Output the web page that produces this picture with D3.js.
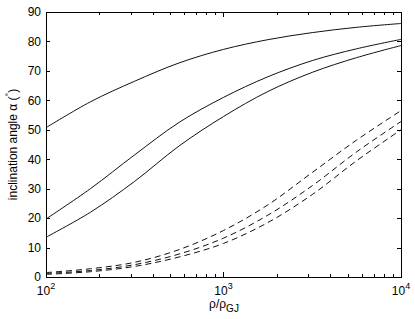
<!DOCTYPE html>
<html>
<head>
<meta charset="utf-8">
<script src="https://cdn.jsdelivr.net/npm/d3@7"></script>
<style>
  body { margin: 0; background: #fff; }
  svg { display: block; font-family: "Liberation Sans", Arial, sans-serif; }
</style>
</head>
<body>
<svg id="chart" width="415" height="319"></svg>
<script>
// density ratio rho/rho_GJ (log spaced)
const rho = [100, 178, 316, 562, 1000, 1778, 3162, 5623, 10000];

// solid curves
const solidA = [50.7, 59.5, 66.5, 72.7, 77.3, 80.6, 83.0, 84.8, 86.1];
const solidB = [19.7, 30.0, 41.5, 52.5, 61.0, 68.0, 73.5, 77.5, 80.7];
const solidC = [13.5, 22.0, 32.5, 44.5, 54.5, 63.0, 69.5, 74.5, 78.6];

// dashed curves
const dashA = [1.5, 2.8, 5.0, 9.3, 15.8, 24.5, 35.5, 46.5, 56.5];
const dashB = [1.2, 2.2, 4.2, 7.8, 13.2, 21.0, 31.0, 42.5, 52.8];
const dashC = [0.9, 1.8, 3.6, 6.8, 11.4, 18.5, 28.0, 39.5, 50.0];

const yTicks = [0, 10, 20, 30, 40, 50, 60, 70, 80, 90];
const xMajor = [2, 3, 4]; // exponents

const svg = d3.select("#chart");
const mLeft = 46, mRight = 401, mTop = 12, mBottom = 277;

const x = d3.scaleLog().domain([100, 10000]).range([mLeft, mRight]);
const y = d3.scaleLinear().domain([0, 90]).range([mBottom, mTop]);

const line = d3.line()
  .x((d) => x(d[0]))
  .y((d) => y(d[1]))
  .curve(d3.curveCatmullRom.alpha(0.5));

function addCurve(vals, dashed) {
  svg.append("path")
    .datum(rho.map((r, i) => [r, vals[i]]))
    .attr("d", line)
    .attr("fill", "none")
    .attr("stroke", "#111")
    .attr("stroke-width", 1)
    .attr("stroke-dasharray", dashed ? "6,4" : null);
}

[solidA, solidB, solidC].forEach((s) => addCurve(s, false));
[dashA, dashB, dashC].forEach((s) => addCurve(s, true));

// ticks (inside, on all four sides)
const ticks = svg.append("g").attr("stroke", "#000").attr("stroke-width", 1);

yTicks.forEach((t) => {
  const yy = Math.round(y(t)) + 0.5;
  ticks.append("line").attr("x1", mLeft).attr("x2", mLeft + 4).attr("y1", yy).attr("y2", yy);
  ticks.append("line").attr("x1", mRight - 4).attr("x2", mRight).attr("y1", yy).attr("y2", yy);
});

const xMinor = [];
[100, 1000].forEach((base) => {
  for (let k = 2; k <= 9; k++) xMinor.push(base * k);
});
xMinor.forEach((v) => {
  const xx = Math.round(x(v)) + 0.5;
  ticks.append("line").attr("x1", xx).attr("x2", xx).attr("y1", mBottom).attr("y2", mBottom - 3);
  ticks.append("line").attr("x1", xx).attr("x2", xx).attr("y1", mTop).attr("y2", mTop + 3);
});
xMajor.forEach((e) => {
  const xx = Math.round(x(Math.pow(10, e))) + 0.5;
  ticks.append("line").attr("x1", xx).attr("x2", xx).attr("y1", mBottom).attr("y2", mBottom - 5);
  ticks.append("line").attr("x1", xx).attr("x2", xx).attr("y1", mTop).attr("y2", mTop + 5);
});

// frame
svg.append("rect")
  .attr("x", mLeft + 0.5)
  .attr("y", mTop + 0.5)
  .attr("width", mRight - mLeft)
  .attr("height", mBottom - mTop)
  .attr("fill", "none")
  .attr("stroke", "#000")
  .attr("stroke-width", 1);

// y tick labels
svg.append("g")
  .selectAll("text")
  .data(yTicks)
  .enter()
  .append("text")
  .attr("x", mLeft - 5)
  .attr("y", (d) => y(d))
  .attr("dy", "0.36em")
  .attr("text-anchor", "end")
  .attr("font-size", 12)
  .text((d) => d);

// x tick labels 10^n
xMajor.forEach((e) => {
  const t = svg.append("text")
    .attr("x", x(Math.pow(10, e)))
    .attr("y", 295)
    .attr("text-anchor", "middle")
    .attr("font-size", 12);
  t.append("tspan").text("10");
  t.append("tspan").attr("dy", -6).attr("font-size", 9).text(e);
});

// x axis label
const xl = svg.append("text")
  .attr("x", 224)
  .attr("y", 308)
  .attr("text-anchor", "middle")
  .attr("font-size", 12);
xl.append("tspan").text("ρ/ρ");
xl.append("tspan").attr("dy", 4).attr("font-size", 10).text("GJ");

// y axis label
const yl = svg.append("text")
  .attr("transform", `translate(17,${(mTop + mBottom) / 2}) rotate(-90)`)
  .attr("text-anchor", "middle")
  .attr("font-size", 12);
yl.append("tspan").text("inclination angle α (");
yl.append("tspan").attr("dy", -5).attr("font-size", 9).text("°");
yl.append("tspan").attr("dy", 5).text(")");
</script>
</body>
</html>
